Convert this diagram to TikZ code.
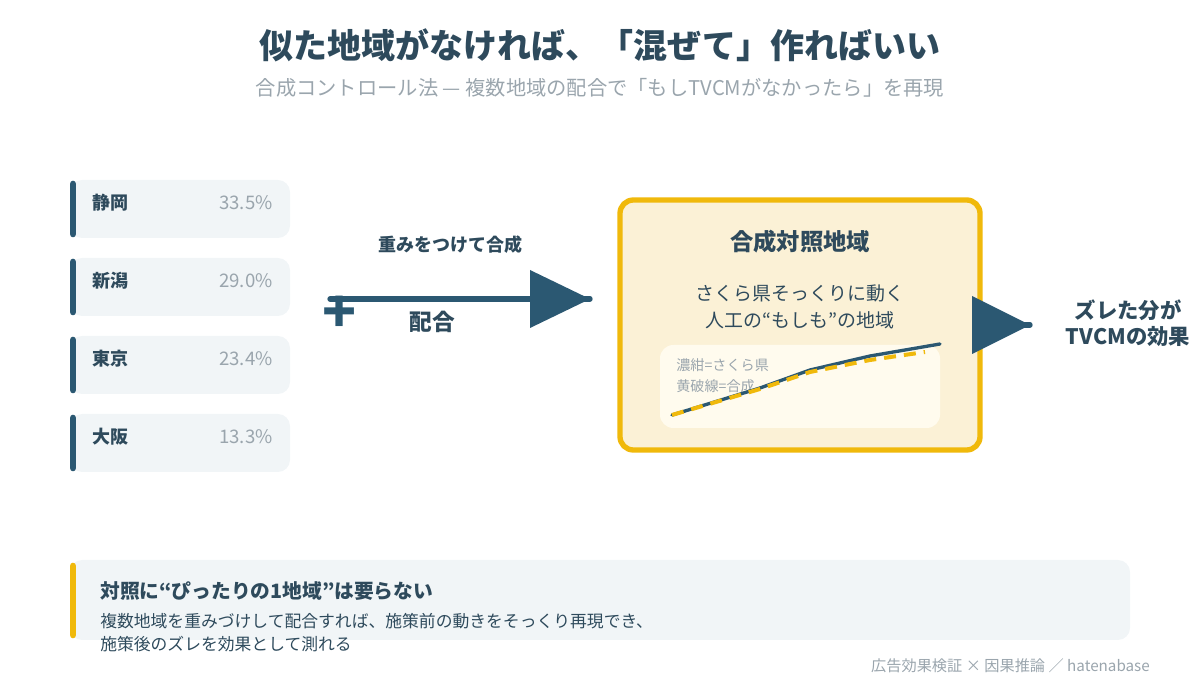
\documentclass[tikz,border=0pt]{standalone}
\usepackage{fontspec}
\setmainfont{Noto Sans CJK JP}
\usetikzlibrary{positioning}
\definecolor{navy}{HTML}{2B5872}
\definecolor{ink}{HTML}{2E4A5C}
\definecolor{mute}{HTML}{9AA5AD}
\definecolor{card}{HTML}{F1F5F7}
\definecolor{gold}{HTML}{F0B90B}
\definecolor{cream}{HTML}{FBF1D6}
\definecolor{paper}{HTML}{FFFBEE}
\begin{document}
\begin{tikzpicture}[
      x=0.75pt, y=-0.75pt,
      every node/.style={inner sep=0pt, text=ink},
      region/.style={fill=card, rounded corners=9pt},
      namelbl/.style={anchor=west, font=\bfseries\fontsize{13.5}{16}\selectfont},
      sharelbl/.style={anchor=east, text=mute, font=\fontsize{14}{16}\selectfont},
      bar/.style={line width=5pt, line cap=round, navy}
    ]
    \useasboundingbox (0,0) rectangle (1200,680);

    % title
    \node[font=\bfseries\fontsize{25.5}{28}\selectfont] (title) at (600,45) {似た地域がなければ、「混ぜて」作ればいい};
    \node[text=mute, font=\fontsize{15.2}{18}\selectfont] (subtitle) at (600,88) {合成コントロール法 — 複数地域の配合で「もしTVCMがなかったら」を再現};

    % donor regions
    \foreach \name/\share [count=\i from 0] in {静岡/33.5\%, 新潟/29.0\%, 東京/23.4\%, 大阪/13.3\%} {
        \fill[region] (70,180+78*\i) rectangle (290,238+78*\i);
        \draw[bar] (73,184+78*\i) -- (73,234+78*\i);
        \node[namelbl] (name\i) at (92,203+78*\i) {\name};
        \node[sharelbl] (share\i) at (273,203+78*\i) {\share};
      }

    % weighting arrow
    \coordinate (mixstart) at (330,299);
    \coordinate (mixend) at (590,299);
    \draw[line width=4pt, navy, line cap=round] (mixstart) -- (mixend);
    \fill[navy] (530,270) -- (590,299) -- (530,328) -- cycle;
    \node[font=\bfseries\fontsize{13.5}{16}\selectfont] (weightlbl) at (450,245) {重みをつけて合成};
    \node[font=\bfseries\fontsize{17}{19}\selectfont] (mixlbl) at (432,322) {配合};
    \node[text=navy, font=\bfseries\fontsize{42}{42}\selectfont] (plus) at (340,314) {+};

    % synthetic control box
    \draw[line width=4pt, gold, fill=cream, rounded corners=10pt] (620,200) rectangle (980,450);
    \node[font=\bfseries\fontsize{17.5}{20}\selectfont] (boxtitle) at (800,242) {合成対照地域};
    \node[font=\fontsize{14.2}{17}\selectfont] (boxline1) at (800,293) {さくら県そっくりに動く};
    \node[font=\fontsize{14.2}{17}\selectfont] (boxline2) at (800,320) {人工の“もしも”の地域};
    \fill[paper, rounded corners=10pt] (660,345) rectangle (940,428);
    \node[anchor=west, text=mute, font=\fontsize{10.6}{12}\selectfont] (legend1) at (676,365) {濃紺=さくら県};
    \node[anchor=west, text=mute, font=\fontsize{10.6}{12}\selectfont] (legend2) at (676,386) {黄破線=合成};
    \draw[navy, line width=2.5pt, line cap=round] (672,415) -- (760,388) -- (810,370) -- (870,356) -- (940,344);
    \draw[gold, line width=3pt, dash pattern=on 9pt off 6pt] (672,415) -- (760,389) -- (810,372) -- (870,360) -- (925,352);

    % effect arrow
    \coordinate (gapstart) at (980,325);
    \coordinate (gapend) at (1030,325);
    \draw[line width=4pt, navy, line cap=round] (gapstart) -- (gapend);
    \fill[navy] (972,296) -- (1030,325) -- (972,354) -- cycle;
    \node[font=\bfseries\fontsize{16}{18}\selectfont] (effect1) at (1128,310) {ズレた分が};
    \node[font=\bfseries\fontsize{16}{18}\selectfont] (effect2) at (1128,337) {TVCMの効果};

    % takeaway
    \fill[region] (70,560) rectangle (1130,640);
    \draw[line width=5pt, line cap=round, gold] (73,566) -- (73,635);
    \node[anchor=west, font=\bfseries\fontsize{14.8}{17}\selectfont] (takehead) at (100,591) {対照に“ぴったりの1地域”は要らない};
    \node[anchor=west, font=\fontsize{12.6}{15}\selectfont] (takebody1) at (100,621) {複数地域を重みづけして配合すれば、施策前の動きをそっくり再現でき、};
    \node[anchor=west, font=\fontsize{12.6}{15}\selectfont] (takebody2) at (100,644) {施策後のズレを効果として測れる};

    % footer
    \node[anchor=east, text=mute, font=\fontsize{11.4}{13}\selectfont] (footer) at (1150,666) {広告効果検証 × 因果推論 ／ hatenabase};
  \end{tikzpicture}
\end{document}
